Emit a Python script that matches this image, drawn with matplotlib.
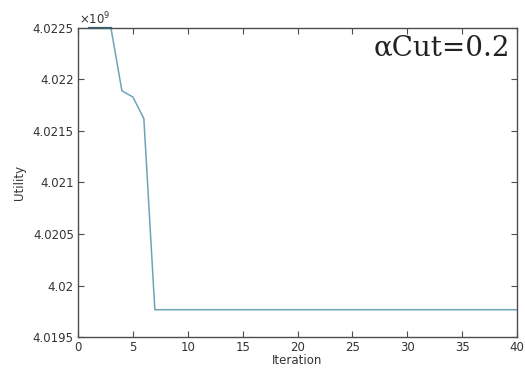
import matplotlib
matplotlib.use('Agg')
import matplotlib.pyplot as plt
from matplotlib.ticker import FuncFormatter

# utility in units of 1e9
iteration = list(range(1, 41))
utility = [4.0225, 4.0225, 4.0225, 4.02189, 4.02183, 4.02162] + [4.019765] * 34

plt.rcParams['font.family'] = ['DejaVu Sans']
gray = '#4d4d4d'

fig = plt.figure(figsize=(5.25, 3.73), dpi=100)
ax = fig.add_axes([0.1486, 0.0965, 0.8362, 0.8285])
ax.plot(iteration, utility, color='#6fa3b8', lw=1.1, clip_on=False, zorder=1)
# first points sit on the top edge, drawn darker over the box line
ax.plot(iteration[:3], utility[:3], color='#3f5f6a', lw=1.6, clip_on=False, zorder=4)

ax.set_xlim(0, 40)
ax.set_ylim(4.0195, 4.0225)
ax.set_xticks(range(0, 41, 5))
ax.set_yticks([4.0195, 4.02, 4.0205, 4.021, 4.0215, 4.022, 4.0225])
ax.yaxis.set_major_formatter(FuncFormatter(lambda v, p: '%g' % round(v, 4)))

for s in ax.spines.values():
    s.set_color(gray)
    s.set_linewidth(1.0)
ax.tick_params(direction='in', top=True, right=True, length=4, width=0.8,
               colors=gray, labelsize=8.5, labelcolor='#333333', pad=3)

ax.set_xlabel('Iteration', fontsize=8.5, color='#333333', labelpad=0)
ax.set_ylabel('Utility', fontsize=8.5, color='#333333', labelpad=5)

ax.text(0.003, 1.003, r'$\times10^{9}$', transform=ax.transAxes, fontsize=8.5,
        color='#333333', ha='left', va='bottom')
ax.text(0.985, 0.935, r'αCut=0.2', transform=ax.transAxes, fontsize=20,
        family=['DejaVu Serif'], ha='right', va='center',
        color='#222222')

fig.savefig('out.png', dpi=100)
